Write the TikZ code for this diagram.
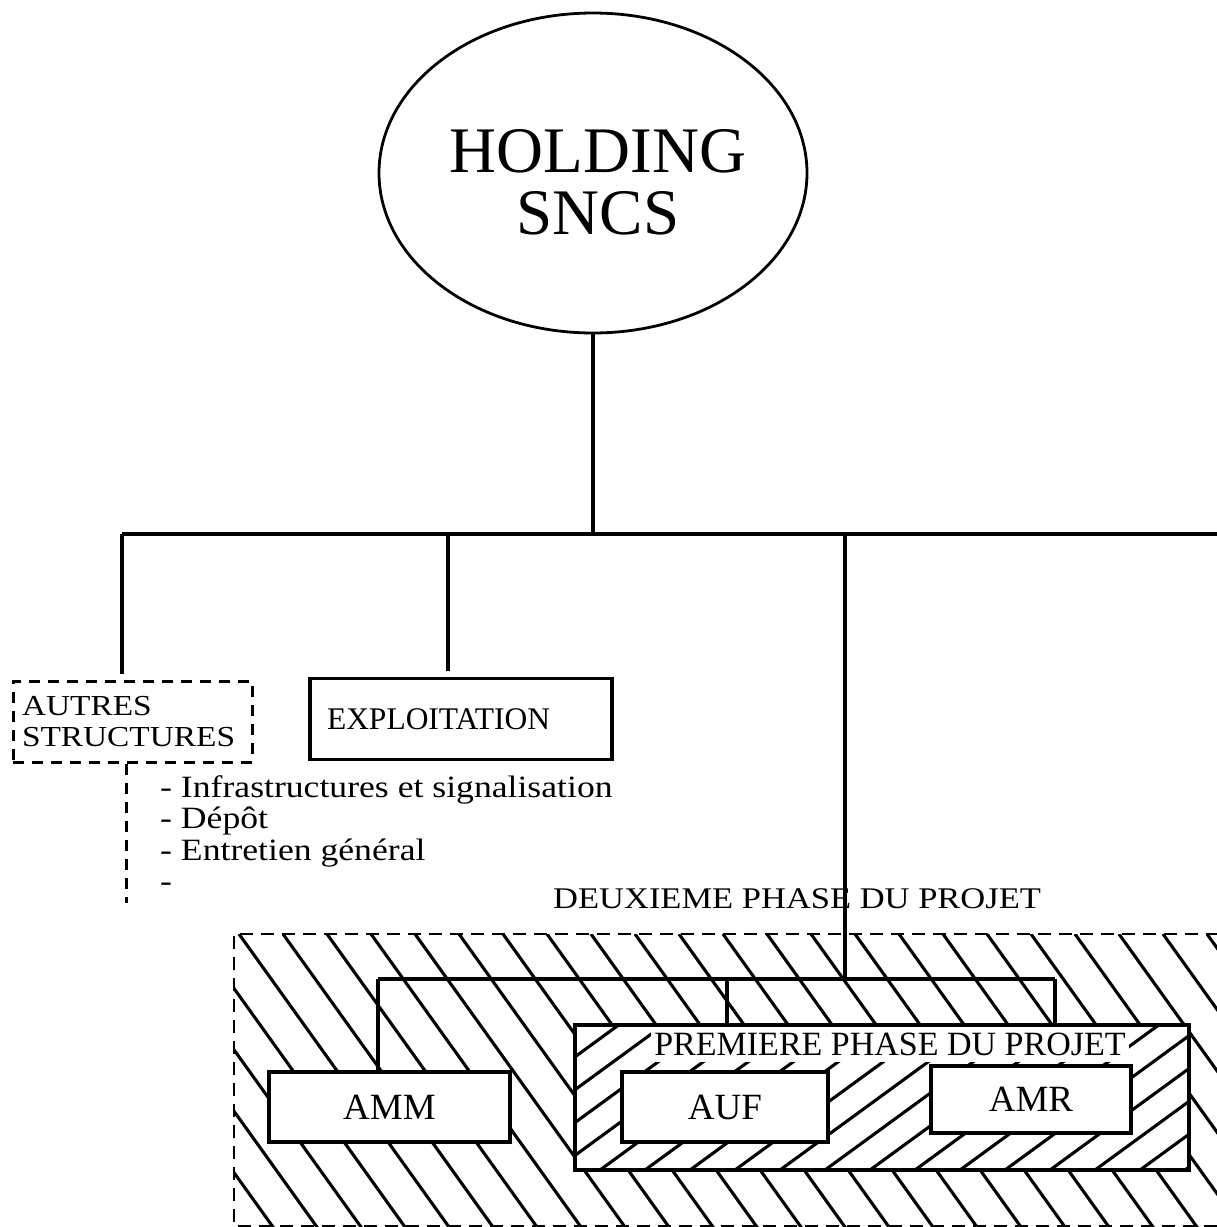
\documentclass[tikz,border=0pt]{standalone}
\usepackage{fontspec}
\setmainfont{Liberation Serif}
\newfontfamily\wideserif[FakeStretch=1.15]{Liberation Serif}
\usetikzlibrary{shapes.geometric}
\begin{document}
\begin{tikzpicture}[x=1pt,y=-1pt,
  conn/.style={line width=3.4pt},
  box/.style={draw,line width=3.4pt,rectangle,inner sep=0pt,fill=white},
  dbox/.style={draw,line width=3pt,dash pattern=on 11pt off 8pt,rectangle},
  dline/.style={line width=3pt,dash pattern=on 11pt off 8pt},
  outerdash/.style={line width=2.8pt,dash pattern=on 13pt off 8pt},
  hatch/.style={line width=3.1pt},
  lbl/.style={font=\fontsize{37}{40}\selectfont}
]
\useasboundingbox[fill=white] (0,0) rectangle (1217,1227);

% ---- outer hatching (second phase) ----
\begin{scope}
  \clip (234,934) rectangle (1217,1226);
  \foreach \i in {0,...,27} {
    \draw[hatch] ({19+44*\i},934) -- ++(215,300);
  }
\end{scope}
\draw[outerdash] (1240,934) -- (234,934) -- (234,1226) -- (1240,1226);

% ---- first phase box with its hatching ----
\node[fill=white,rectangle,outer sep=0pt,inner sep=0pt,minimum width=614pt,minimum height=145pt] (prem) at (882,1097.5) {};
\begin{scope}
  \clip (prem.south west) rectangle (prem.north east);
  \foreach \i in {0,...,18} {
    \draw[hatch] ({375+45*\i},1170) -- ++(200,-146);
  }
\end{scope}
\draw[line width=3.4pt] (prem.south west) rectangle (prem.north east);
\node[box,lbl,minimum width=206pt,minimum height=70pt] (auf) at (725,1107) {AUF};
\node[box,lbl,minimum width=200pt,minimum height=67pt] (amr) at (1031,1099.5) {AMR};
\node[fill=white,inner xsep=3pt,inner ysep=7pt,anchor=base,font=\fontsize{34}{36}\selectfont] (premlbl) at (890,1055) {PREMIERE PHASE DU PROJET};
\draw[line width=3.4pt] (prem.south west) rectangle (prem.north east);
\node[box,lbl,minimum width=241pt,minimum height=70pt] (amm) at (389.5,1107) {AMM};

% ---- top ----
\node[draw,ellipse,line width=2.8pt,inner sep=0pt,minimum width=428pt,minimum height=320pt] (holding) at (593,173) {};
\node[align=center,font=\fontsize{65}{62}\selectfont] (holdingtxt) at (598,182) {HOLDING\\SNCS};

\coordinate (jTop) at (593,534);
\coordinate (jL) at (122,534);
\coordinate (jE) at (448,534);
\coordinate (jD) at (845,534);
\coordinate (jR) at (1217,534);

\node[dbox,minimum width=239pt,minimum height=81pt,inner xsep=9pt,inner ysep=0pt,text width=221pt,align=left,
      font=\wideserif\fontsize{29}{31}\selectfont] (autres) at (132.5,721.5) {AUTRES\\STRUCTURES};
\node[box,minimum width=302pt,minimum height=81pt,inner xsep=17pt,text width=268pt,align=left,
      font=\fontsize{31.5}{34}\selectfont] (expl) at (461,719) {EXPLOITATION};

\node[anchor=base west,inner sep=0pt,font=\wideserif\fontsize{31}{33}\selectfont] (l1) at (160,797) {- Infrastructures et signalisation};
\node[anchor=base west,inner sep=0pt,font=\wideserif\fontsize{31}{33}\selectfont] (l2) at (160,828.5) {- Dépôt};
\node[anchor=base west,inner sep=0pt,font=\wideserif\fontsize{31}{33}\selectfont] (l3) at (160,860) {- Entretien général};
\node[anchor=base west,inner sep=0pt,font=\wideserif\fontsize{31}{33}\selectfont] (l4) at (160,891.5) {-};

\node[anchor=base west,inner sep=0pt,font=\wideserif\fontsize{30}{32}\selectfont] (deux) at (553,908) {DEUXIEME PHASE DU PROJET};

% ---- connectors ----
\draw[conn] (holding.south) -- (jTop);
\draw[conn] (jL) -- (jR);
\draw[conn,shorten >=6pt] (jL) -- (jL |- autres.north);
\draw[conn,shorten >=6pt] (jE) -- (jE |- expl.north);
\coordinate (aEnd) at (126,903);
\draw[dline] (aEnd |- autres.south) -- (aEnd);

\coordinate (kD) at (845,979);
\coordinate (kL) at (378,979);
\coordinate (kM) at (727,979);
\coordinate (kR) at (1055,979);
\draw[conn] (jD) -- (kD);
\draw[conn] (kL) -- (kR);
\draw[conn] (kL) -- (kL |- amm.north);
\draw[conn] (kM) -- (kM |- prem.north);
\draw[conn] (kR) -- (kR |- prem.north);
\end{tikzpicture}
\end{document}
